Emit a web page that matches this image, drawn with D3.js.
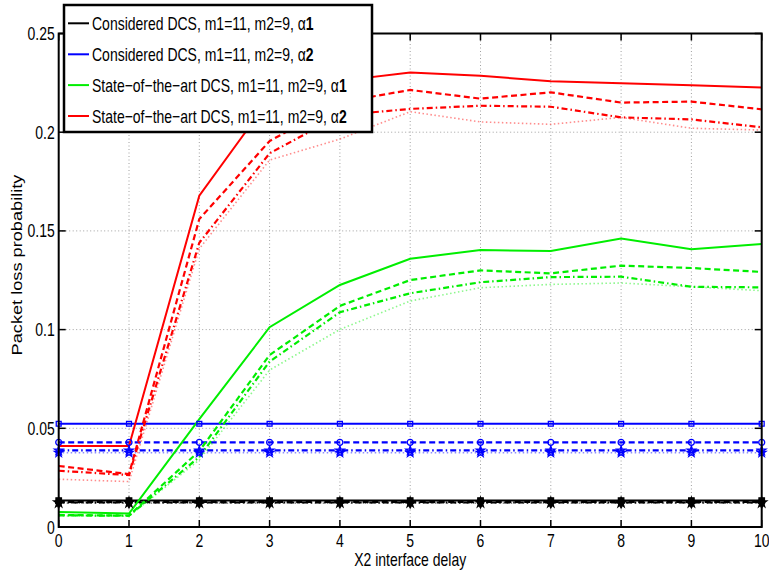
<!DOCTYPE html>
<html>
<head>
<meta charset="utf-8">
<script src="https://cdn.jsdelivr.net/npm/d3@7/dist/d3.min.js"></script>
<style>
  html, body { margin: 0; padding: 0; background: #fff; }
  svg { display: block; }
  text { font-family: "Liberation Sans", Arial, Helvetica, sans-serif; fill: #000; }
</style>
</head>
<body>
<svg id="chart" width="769" height="573"></svg>
<script>
// X2 interface delay values and axis ticks
const delays = [0, 1, 2, 3, 4, 5, 6, 7, 8, 9, 10];
const yTickValues = [0, 0.05, 0.1, 0.15, 0.2, 0.25];
const yTickLabels = ["0", "0.05", "0.1", "0.15", "0.2", "0.25"];

// Considered DCS, alpha 1 (black)
const consideredA1Solid   = [0.0134, 0.0134, 0.0134, 0.0134, 0.0134, 0.0134, 0.0134, 0.0134, 0.0134, 0.0134, 0.0134];
const consideredA1Dashed  = [0.0127, 0.0127, 0.0127, 0.0127, 0.0127, 0.0127, 0.0127, 0.0127, 0.0127, 0.0127, 0.0127];
const consideredA1DashDot = [0.0124, 0.0124, 0.0124, 0.0124, 0.0124, 0.0124, 0.0124, 0.0124, 0.0124, 0.0124, 0.0124];
const consideredA1Dotted  = [0.0121, 0.0121, 0.0121, 0.0121, 0.0121, 0.0121, 0.0121, 0.0121, 0.0121, 0.0121, 0.0121];

// Considered DCS, alpha 2 (blue)
const consideredA2Solid   = [0.0523, 0.0523, 0.0523, 0.0523, 0.0523, 0.0523, 0.0523, 0.0523, 0.0523, 0.0523, 0.0523];
const consideredA2Dashed  = [0.0429, 0.0429, 0.0429, 0.0429, 0.0429, 0.0429, 0.0429, 0.0429, 0.0429, 0.0429, 0.0429];
const consideredA2DashDot = [0.0388, 0.0388, 0.0388, 0.0388, 0.0388, 0.0388, 0.0388, 0.0388, 0.0388, 0.0388, 0.0388];
const consideredA2Dotted  = [0.0376, 0.0376, 0.0376, 0.0376, 0.0376, 0.0376, 0.0376, 0.0376, 0.0376, 0.0376, 0.0376];

// State-of-the-art DCS, alpha 1 (green)
const stateA1Solid   = [0.0076, 0.0068, 0.0546, 0.1012, 0.1226, 0.1359, 0.1403, 0.1398, 0.1461, 0.1407, 0.1434];
const stateA1Dashed  = [0.0061, 0.0058, 0.0385, 0.0871, 0.1120, 0.1251, 0.1300, 0.1285, 0.1324, 0.1312, 0.1292];
const stateA1DashDot = [0.0059, 0.0057, 0.0355, 0.0838, 0.1088, 0.1184, 0.1240, 0.1266, 0.1268, 0.1217, 0.1214];
const stateA1Dotted  = [0.0056, 0.0055, 0.0340, 0.0795, 0.1001, 0.1145, 0.1212, 0.1229, 0.1236, 0.1217, 0.1197];

// State-of-the-art DCS, alpha 2 (red)
const stateA2Solid   = [0.0410, 0.0410, 0.1678, 0.2169, 0.2260, 0.2303, 0.2286, 0.2258, 0.2248, 0.2238, 0.2226];
const stateA2Dashed  = [0.0309, 0.0268, 0.1560, 0.1955, 0.2152, 0.2214, 0.2170, 0.2202, 0.2150, 0.2155, 0.2116];
const stateA2DashDot = [0.0285, 0.0263, 0.1440, 0.1893, 0.2086, 0.2118, 0.2134, 0.2129, 0.2075, 0.2065, 0.2025];
const stateA2Dotted  = [0.0242, 0.0230, 0.1410, 0.1859, 0.1965, 0.2104, 0.2052, 0.2040, 0.2075, 0.2020, 0.2011];

const legendLabels = [
  { text: "Considered DCS, m1=11, m2=9, \u03b1", idx: "1", color: "#000000" },
  { text: "Considered DCS, m1=11, m2=9, \u03b1", idx: "2", color: "#0000ff" },
  { text: "State\u2212of\u2212the\u2212art DCS, m1=11, m2=9, \u03b1", idx: "1", color: "#00ee00" },
  { text: "State\u2212of\u2212the\u2212art DCS, m1=11, m2=9, \u03b1", idx: "2", color: "#ff0000" }
];

// Layout
const plotLeft = 58.7, plotRight = 761.7, plotTop = 33.5, plotBottom = 527;
const SY = 1.3;      // vertical stretch applied to all text
const FS = 14;       // font size

const svg = d3.select("#chart");
const x = d3.scaleLinear().domain([0, 10]).range([plotLeft, plotRight]);
const y = d3.scaleLinear().domain([0, 0.25]).range([plotBottom, plotTop]);

// line styles
const styles = {
  solid:   { dash: null, width: 2, opacity: 1 },
  dashed:  { dash: "6,3.5", width: 2.2, opacity: 1 },
  dashdot: { dash: "6,3,1.5,3", width: 2.2, opacity: 1 },
  dotted:  { dash: "1.5,2.5", width: 1.6, opacity: 0.45 }
};

const series = [
  { values: consideredA1Solid,   color: "#000000", style: "solid",   marker: "fsquare" },
  { values: consideredA1Dashed,  color: "#000000", style: "dashed",  marker: "fcircle" },
  { values: consideredA1DashDot, color: "#000000", style: "dashdot", marker: "fstar" },
  { values: consideredA1Dotted,  color: "#000000", style: "dotted",  marker: "fdiamond" },
  { values: consideredA2Solid,   color: "#0000ff", style: "solid",   marker: "square" },
  { values: consideredA2Dashed,  color: "#0000ff", style: "dashed",  marker: "circle" },
  { values: consideredA2DashDot, color: "#0000ff", style: "dashdot", marker: "star" },
  { values: consideredA2Dotted,  color: "#0000ff", style: "dotted",  marker: "star" },
  { values: stateA1Solid,   color: "#00ee00", style: "solid",   marker: null },
  { values: stateA1Dashed,  color: "#00ee00", style: "dashed",  marker: null },
  { values: stateA1DashDot, color: "#00ee00", style: "dashdot", marker: null },
  { values: stateA1Dotted,  color: "#00ee00", style: "dotted",  marker: null },
  { values: stateA2Solid,   color: "#ff0000", style: "solid",   marker: null },
  { values: stateA2Dashed,  color: "#ff0000", style: "dashed",  marker: null },
  { values: stateA2DashDot, color: "#ff0000", style: "dashdot", marker: null },
  { values: stateA2Dotted,  color: "#ff0000", style: "dotted",  marker: null }
];

// text helper: stretched vertically around the anchor point
function label(parent, px, py, str, anchor, rotate) {
  const g = parent.append("g")
    .attr("transform", `translate(${px},${py}) scale(1,${SY})` + (rotate ? ` rotate(${rotate})` : ""));
  return g.append("text")
    .attr("x", 0).attr("y", 0)
    .attr("text-anchor", anchor || "start")
    .style("font-size", FS + "px")
    .text(str);
}

// grid
const grid = svg.append("g");
grid.selectAll("line.gx").data(delays.slice(1, -1)).enter().append("line")
  .attr("x1", d => x(d)).attr("x2", d => x(d))
  .attr("y1", plotTop).attr("y2", plotBottom)
  .attr("stroke", "#a0a0a0").attr("stroke-width", 1).attr("stroke-dasharray", "1,2.5");
grid.selectAll("line.gy").data(yTickValues.slice(1, -1)).enter().append("line")
  .attr("x1", plotLeft).attr("x2", plotRight)
  .attr("y1", d => y(d)).attr("y2", d => y(d))
  .attr("stroke", "#a0a0a0").attr("stroke-width", 1).attr("stroke-dasharray", "1,2.5");

// lines
const lineGen = d3.line().x((d, i) => x(delays[i])).y(d => y(d));
const plot = svg.append("g");
series.forEach(s => {
  const st = styles[s.style];
  plot.append("path")
    .attr("d", lineGen(s.values))
    .attr("fill", "none")
    .attr("stroke", s.color)
    .attr("stroke-width", st.width)
    .attr("stroke-opacity", st.opacity)
    .attr("stroke-dasharray", st.dash);
});

// markers
const symbolFor = {
  fsquare:  { type: d3.symbolSquare, size: 30, fill: true },
  fcircle:  { type: d3.symbolCircle, size: 28, fill: true },
  fstar:    { type: d3.symbolStar, size: 30, fill: true },
  fdiamond: { type: d3.symbolDiamond, size: 26, fill: true },
  square:   { type: d3.symbolSquare, size: 24, fill: false },
  circle:   { type: d3.symbolCircle, size: 28, fill: false },
  star:     { type: d3.symbolStar, size: 22, fill: false }
};
series.filter(s => s.marker).forEach(s => {
  const m = symbolFor[s.marker];
  const sym = d3.symbol().type(m.type).size(m.size);
  plot.selectAll(null).data(s.values).enter().append("path")
    .attr("d", sym)
    .attr("transform", (d, i) => `translate(${x(delays[i])},${y(d)})`)
    .attr("fill", m.fill ? s.color : "none")
    .attr("stroke", s.color)
    .attr("stroke-width", 1.3);
});

// axes box and inward ticks
const axes = svg.append("g");
axes.append("rect")
  .attr("x", plotLeft).attr("y", plotTop)
  .attr("width", plotRight - plotLeft).attr("height", plotBottom - plotTop)
  .attr("fill", "none").attr("stroke", "#000").attr("stroke-width", 2);
const TL = 7;
delays.forEach(d => {
  axes.append("line").attr("x1", x(d)).attr("x2", x(d)).attr("y1", plotBottom).attr("y2", plotBottom - TL)
    .attr("stroke", "#000").attr("stroke-width", 1.5);
  axes.append("line").attr("x1", x(d)).attr("x2", x(d)).attr("y1", plotTop).attr("y2", plotTop + TL)
    .attr("stroke", "#000").attr("stroke-width", 1.5);
});
yTickValues.forEach(v => {
  axes.append("line").attr("x1", plotLeft).attr("x2", plotLeft + TL).attr("y1", y(v)).attr("y2", y(v))
    .attr("stroke", "#000").attr("stroke-width", 1.5);
  axes.append("line").attr("x1", plotRight).attr("x2", plotRight - TL).attr("y1", y(v)).attr("y2", y(v))
    .attr("stroke", "#000").attr("stroke-width", 1.5);
});

// tick labels
const capHalf = FS * 0.716 * SY / 2;
yTickValues.forEach((v, i) => label(svg, plotLeft - 4, y(v) + capHalf, yTickLabels[i], "end"));
delays.forEach(d => label(svg, x(d), plotBottom + 20, String(d), "middle"));

// axis titles
label(svg, (plotLeft + plotRight) / 2, 566, "X2 interface delay", "middle");
label(svg, 22, 265, "Packet loss probability", "middle", -90);

// legend
const lg = svg.append("g");
lg.append("rect")
  .attr("x", 64).attr("y", 5).attr("width", 308).attr("height", 127)
  .attr("fill", "#fff").attr("stroke", "#000").attr("stroke-width", 2.5);
const rowY = [23.3, 54.3, 85.1, 116];
legendLabels.forEach((L, i) => {
  lg.append("line")
    .attr("x1", 68).attr("x2", 89).attr("y1", rowY[i]).attr("y2", rowY[i])
    .attr("stroke", L.color).attr("stroke-width", 2);
  const t = label(lg, 92, rowY[i] + capHalf, "", "start");
  t.append("tspan").text(L.text);
  t.append("tspan").style("font-weight", "bold").text(L.idx);
});
</script>
</body>
</html>
